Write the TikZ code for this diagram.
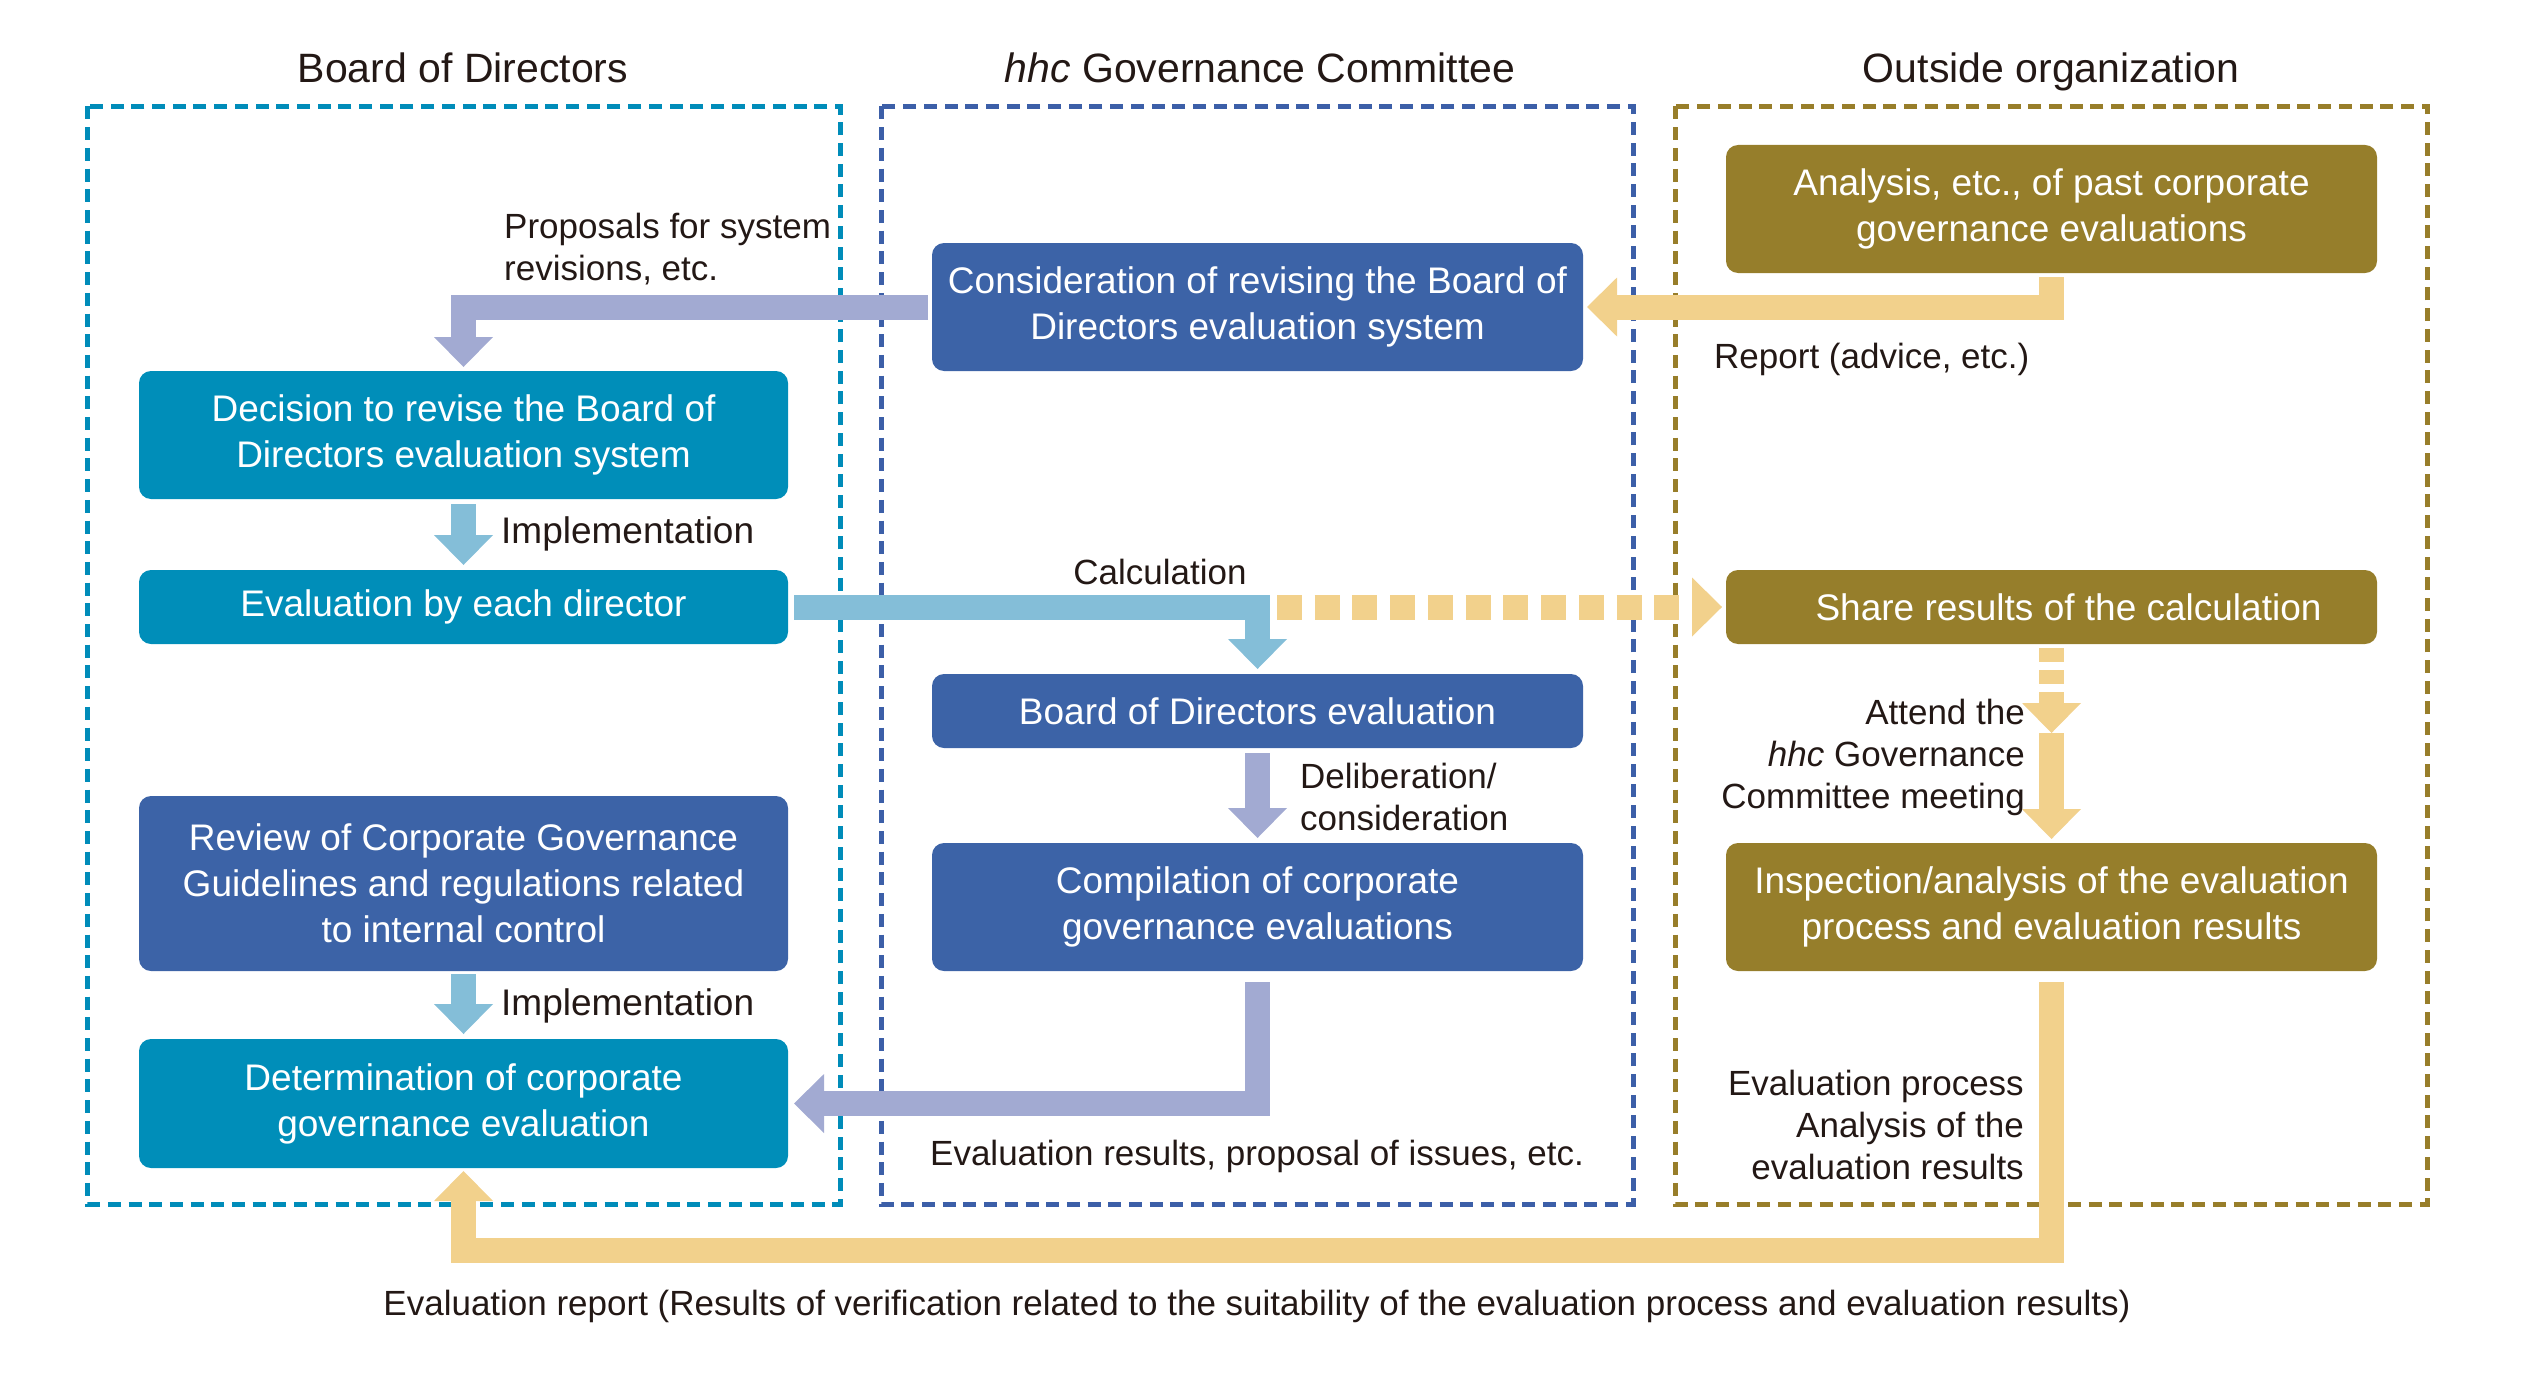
\documentclass[tikz,border=0pt]{standalone}
\usepackage{fontspec}
\setmainfont{Liberation Sans}
\usetikzlibrary{arrows.meta}
\definecolor{cTeal}{RGB}{0,142,185}
\definecolor{cBlue}{RGB}{60,99,167}
\definecolor{cOlive}{RGB}{150,126,43}
\definecolor{aBlue}{RGB}{132,190,216}
\definecolor{aLav}{RGB}{162,170,210}
\definecolor{aYel}{RGB}{242,209,140}
\definecolor{fTeal}{RGB}{0,140,185}
\definecolor{fBlue}{RGB}{60,95,168}
\definecolor{fOlive}{RGB}{152,126,42}
\definecolor{cText}{RGB}{35,24,21}
\begin{document}
\begin{tikzpicture}[x=1pt,y=-1pt,
  box/.style={rounded corners=12pt, inner sep=0pt, outer sep=0pt, text=white, align=center,
    font=\fontsize{37}{46}\selectfont},
  tbox/.style={box, fill=cTeal, minimum width=649pt},
  bbox/.style={box, fill=cBlue, minimum width=651pt},
  obox/.style={box, fill=cOlive, minimum width=651pt},
  lbl/.style={text=cText, inner sep=0pt, font=\fontsize{35}{42}\selectfont},
  lblw/.style={lbl, font=\fontsize{37}{42}\selectfont},
  ttl/.style={text=cText, inner sep=0pt, anchor=base, font=\fontsize{41}{49}\selectfont},
  frm/.style={line width=5pt, dash pattern=on 13pt off 7.7pt},
  fat/.style={line width=25pt, line join=miter, -{Triangle[width=59pt,length=30pt,line width=0pt]}},
  arrB/.style={fat, draw=aBlue, color=aBlue},
  arrP/.style={fat, draw=aLav, color=aLav},
  arrY/.style={fat, draw=aYel, color=aYel},
  arrYd/.style={arrY, dash pattern=on 25pt off 12.73pt},
  arrYs/.style={arrY, dash pattern=on 14pt off 8pt}
]
\useasboundingbox (0,0) rectangle (2529,1394);

% frames
\draw[frm, draw=fTeal] (87.5,106.5) rectangle (840,1204);
\draw[frm, draw=fBlue] (881,106.5) rectangle (1633,1204);
\draw[frm, draw=fOlive] (1675,106.5) rectangle (2427,1204);

% titles
\node[ttl] (tBoD) at (463,83) {Board of Directors};
\node[ttl] (tGC) at (1260,83) {\textit{hhc} Governance Committee};
\node[ttl] (tOut) at (2051,83) {Outside organization};

% boxes
\node[tbox, minimum height=128pt] (dec) at (463.5,435) {Decision to revise the Board of\\Directors evaluation system};
\node[tbox, minimum height=74pt] (evald) at (463.5,607) {Evaluation by each director};
\node[bbox, minimum width=649pt, minimum height=175pt] (review) at (463.5,883.5) {Review of Corporate Governance\\Guidelines and regulations related\\to internal control};
\node[tbox, minimum height=129pt] (det) at (463.5,1103.5) {Determination of corporate\\governance evaluation};

\node[bbox, minimum height=128pt] (cons) at (1257.5,307) {Consideration of revising the Board of\\Directors evaluation system};
\node[bbox, minimum height=74pt] (bode) at (1257.5,711) {Board of Directors evaluation};
\node[bbox, minimum height=128pt] (comp) at (1257.5,907) {Compilation of corporate\\governance evaluations};

\node[obox, minimum height=128pt] (anal) at (2051.5,209) {Analysis, etc., of past corporate\\governance evaluations};
\node[obox, minimum height=74pt] (share) at (2051.5,607) {\hspace*{34pt}Share results of the calculation};
\node[obox, minimum height=128pt] (insp) at (2051.5,907) {Inspection/analysis of the evaluation\\process and evaluation results};

% connectors
\draw[arrP, shorten <=4pt, shorten >=4pt] (cons.west) -| (dec.north);
\draw[arrB, shorten <=5pt, shorten >=5pt] (dec.south) -- (evald.north);
\draw[arrB, shorten <=6pt, shorten >=5pt] (evald.east) -| (bode.north);
\coordinate (calcE) at (1277,607);
\draw[arrYd, shorten >=4pt] (calcE) -- (share.west);
\draw[arrY, shorten <=4pt, shorten >=4pt] (anal.south) |- (cons.east);
\coordinate (attend) at (2051.5,733);
\draw[arrYs, shorten <=4pt] (share.south) -- (attend);
\draw[arrY, shorten >=4pt] (attend) -- (insp.north);
\draw[arrP, shorten <=5pt, shorten >=5pt] (bode.south) -- (comp.north);
\draw[arrP, shorten <=11pt, shorten >=6pt] (comp.south) |- (det.east);
\draw[arrB, shorten <=3pt, shorten >=5pt] (review.south) -- (det.north);
\coordinate (repL) at (463.5,1250.5);
\draw[arrY, shorten <=11pt, shorten >=3pt] (insp.south) |- (repL) -- (det.south);

% labels
\node[lbl, anchor=west, align=left] (lProp) at (504,249) {Proposals for system\\revisions, etc.};
\node[lblw, anchor=west] (lImp1) at (501,534) {Implementation};
\node[lblw, anchor=west] (lImp2) at (501,1006) {Implementation};
\node[lbl] (lCalc) at (1160,572) {Calculation};
\node[lbl, anchor=west] (lRep) at (1714,359) {Report (advice, etc.)};
\node[lbl, anchor=west, align=left] (lDel) at (1300,797) {Deliberation/\\consideration};
\node[lbl, anchor=east, align=right] (lAtt) at (2025,757) {Attend the\\\textit{hhc} Governance\\Committee meeting};
\node[lbl] (lRes) at (1257,1156) {Evaluation results, proposal of issues, etc.};
\node[lbl, anchor=east, align=right] (lProc) at (2024,1125) {Evaluation process\\Analysis of the\\evaluation results};
\node[lbl] (lFin) at (1257,1306) {Evaluation report (Results of verification related to the suitability of the evaluation process and evaluation results)};
\end{tikzpicture}
\end{document}
